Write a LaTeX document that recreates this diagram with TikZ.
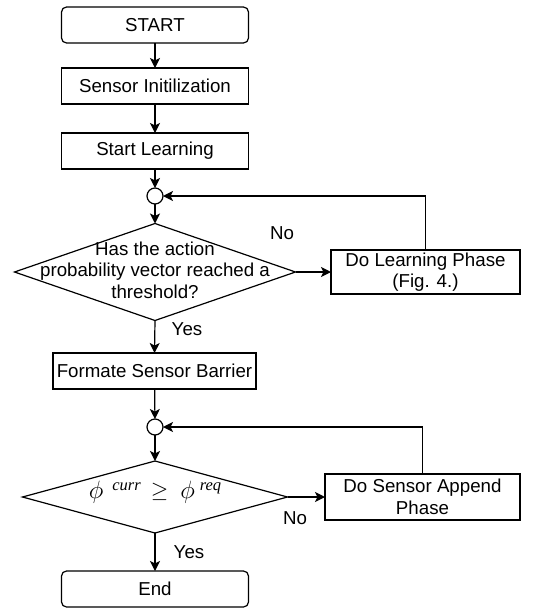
\documentclass[tikz,border=0pt]{standalone}
\usepackage{graphicx}
\usepackage{fontspec}
\setmainfont{Liberation Sans}
\newfontfamily\supserif{Liberation Serif}
\usetikzlibrary{arrows.meta,shapes.geometric}
\newcommand{\supword}[1]{\raisebox{7pt}{\fontsize{16.5}{18}\supserif\itshape #1}}
\newcommand{\bigphi}{\raisebox{-1pt}{\scalebox{1.45}{$\phi$}}}
\begin{document}
\begin{tikzpicture}[x=1pt,y=-1pt,
  font=\fontsize{18.7}{21.5}\selectfont,
  every node/.style={inner sep=0pt, outer sep=0pt},
  box/.style={draw, line width=1.2pt, rectangle, minimum width=187pt, minimum height=36pt, align=center},
  term/.style={box, rounded corners=5pt},
  decision/.style={draw, line width=1.2pt, diamond, minimum width=#1, minimum height=97pt},
  junction/.style={draw, line width=1.2pt, circle, minimum size=16pt, fill=white},
  flow/.style={draw, line width=1.2pt, -{Stealth[length=10pt,width=10pt,inset=2.5pt]}},
  lbl/.style={font=\fontsize{18.7}{21.5}\selectfont}
]
\useasboundingbox (0,0) rectangle (533,608);

% main column
\node[term] (start) at (155,25) {START};
\node[box] (init) at (155,86) {Sensor Initilization};
\node[box] (learn) at (155,151) {Start Learning};
\node[junction] (c1) at (155,196) {};
\node[decision=281pt] (d1) at (155,272) {};
\node[align=center] (d1t) at (155,270) {Has the action\\probability vector reached a\\threshold?};
\node[box, minimum width=189pt, minimum height=44pt] (lphase) at (425.5,272) {Do Learning Phase\\(Fig. 4.)};

\node[box, minimum width=203pt] (barrier) at (154.5,371) {Formate Sensor Barrier};
\node[junction] (c2) at (155,427) {};
\node[decision=265pt, minimum height=72pt] (d2) at (155,497) {};
\node (d2t) at (155,492) {\bigphi\hspace{9pt}\supword{curr}\hspace{10pt}\scalebox{1.3}{$\geq$}\hspace{12pt}\bigphi\hspace{5pt}\supword{req}};
\node[box, minimum width=195pt, minimum height=46pt] (aphase) at (422.5,497) {Do Sensor Append\\Phase};
\node[term] (finish) at (155,589) {End};

% connectors
\draw[flow] (start) -- (init);
\draw[flow] (init) -- (learn);
\draw[flow] (learn) -- (c1);
\draw[flow] (c1) -- (d1);
\draw[flow] (d1.east) -- (lphase.west);
\draw[flow] (lphase.north) |- (c1.east);
\draw[flow] (d1.south) -- (barrier.north);
\draw[flow] (barrier) -- (c2);
\draw[flow] (c2) -- (d2);
\draw[flow] (d2.east) -- (aphase.west);
\draw[flow] (aphase.north) |- (c2.east);
\draw[flow] (d2.south) -- (finish.north);

% branch labels
\node[lbl] (no1) at (282,233) {No};
\node[lbl] (yes1) at (187,329) {Yes};
\node[lbl] (no2) at (295,518) {No};
\node[lbl] (yes2) at (189,552) {Yes};
\end{tikzpicture}
\end{document}
